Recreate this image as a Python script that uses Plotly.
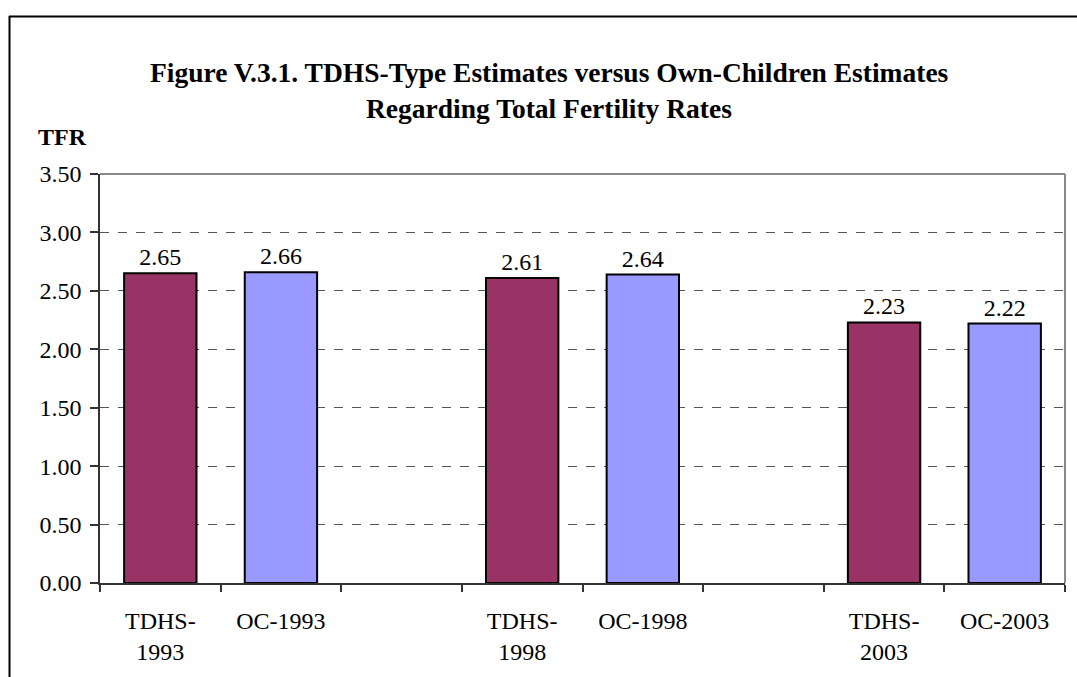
import plotly.graph_objects as go

categories = ["TDHS-<br>1993", "OC-1993", " ", "TDHS-<br>1998", "OC-1998", "  ", "TDHS-<br>2003", "OC-2003"]
tfr_values = [2.65, 2.66, None, 2.61, 2.64, None, 2.23, 2.22]
bar_colors = ["#993366", "#9999FF", "#FFFFFF", "#993366", "#9999FF", "#FFFFFF", "#993366", "#9999FF"]
y_ticks = [0, 0.5, 1.0, 1.5, 2.0, 2.5, 3.0, 3.5]

title_line1 = "Figure V.3.1. TDHS-Type Estimates versus Own-Children Estimates"
title_line2 = "Regarding Total Fertility Rates"
y_title = "TFR"

FONT = "Liberation Serif"
W, H = 1077, 677
L, R, T, B = 100, 12, 174, 94
pw, ph = W - L - R, H - T - B

def px_x(p):
    return (p - L) / pw

def px_y(p):
    return (H - B - p) / ph

fig = go.Figure()
fig.add_trace(go.Bar(
    x=categories,
    y=tfr_values,
    marker=dict(color=bar_colors, line=dict(color="black", width=2)),
    width=0.6,
    text=[("%.2f" % v) if v is not None else "" for v in tfr_values],
    textposition="outside",
    textfont=dict(family=FONT, size=24, color="black"),
    cliponaxis=False,
    hoverinfo="skip",
))

fig.update_layout(
    width=W, height=H,
    margin=dict(l=L, r=R, t=T, b=B, pad=0),
    paper_bgcolor="white", plot_bgcolor="white",
    showlegend=False,
    font=dict(family=FONT, size=24, color="black"),
    xaxis=dict(
        type="category", categoryorder="array", categoryarray=categories,
        tickson="boundaries", ticks="outside", ticklen=7, tickwidth=1.5, tickcolor="#333",
        showline=True, linecolor="#333", linewidth=1.5,
        showgrid=False, tickfont=dict(family=FONT, size=24, color="black"),
        ticklabelstandoff=15,
    ),
    yaxis=dict(
        range=[0, 3.5], tickvals=y_ticks, tickformat=".2f",
        ticks="outside", ticklen=8, tickwidth=1.5, tickcolor="#333",
        showline=True, linecolor="#333", linewidth=1.5,
        showgrid=True, gridcolor="#555", gridwidth=1, griddash="dash",
        zeroline=False, tickfont=dict(family=FONT, size=24, color="black"),
        ticklabelstandoff=4,
    ),
    shapes=[
        dict(type="line", xref="paper", yref="paper", x0=0, x1=1, y0=1, y1=1,
             line=dict(color="#888", width=2)),
        dict(type="line", xref="paper", yref="paper", x0=1, x1=1, y0=0, y1=1,
             line=dict(color="#888", width=2)),
        dict(type="line", xref="paper", yref="paper", x0=px_x(9), x1=px_x(1080), y0=px_y(16.5), y1=px_y(16.5),
             line=dict(color="black", width=2)),
        dict(type="line", xref="paper", yref="paper", x0=px_x(9.5), x1=px_x(9.5), y0=px_y(16), y1=px_y(680),
             line=dict(color="black", width=2)),
    ],
    annotations=[
        dict(text="<b>%s</b>" % title_line1, xref="paper", yref="paper", x=px_x(549), y=px_y(72),
             xanchor="center", yanchor="middle", showarrow=False,
             font=dict(family=FONT, size=27.5, color="black")),
        dict(text="<b>%s</b>" % title_line2, xref="paper", yref="paper", x=px_x(549), y=px_y(108),
             xanchor="center", yanchor="middle", showarrow=False,
             font=dict(family=FONT, size=27.5, color="black")),
        dict(text="<b>%s</b>" % y_title, xref="paper", yref="paper", x=px_x(36), y=px_y(137),
             xanchor="left", yanchor="middle", showarrow=False,
             font=dict(family=FONT, size=24, color="black")),
    ],
)

fig.write_html("out.html", config={"displayModeBar": False},
               post_script="document.body.style.margin='0';document.body.style.overflow='hidden';")
